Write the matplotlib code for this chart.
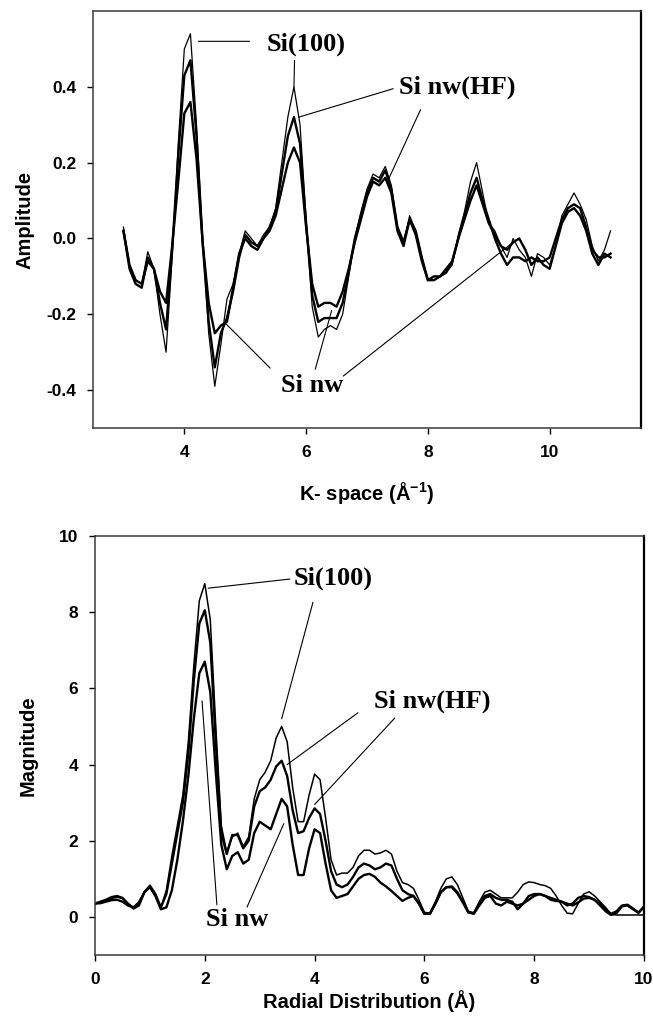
import numpy as np
import matplotlib
matplotlib.use("Agg")
import matplotlib.pyplot as plt

plt.rcParams["font.family"] = ["Liberation Sans", "DejaVu Sans"]
plt.rcParams["mathtext.fontset"] = "custom"
plt.rcParams["mathtext.rm"] = "Liberation Sans"
plt.rcParams["mathtext.bf"] = "Liberation Sans:bold"

# ---------------- EXAFS oscillations in k-space ----------------
k = np.round(np.linspace(3.0, 11.0, 81), 1)

chi_si100 = [
    0.03, -0.07, -0.11, -0.12, -0.035, -0.08, -0.20, -0.30, -0.05, 0.25,
    0.50, 0.54, 0.30, 0.00, -0.25, -0.39, -0.28, -0.16, -0.12, -0.04,
    0.02, 0.00, -0.02, 0.01, 0.03, 0.08, 0.20, 0.32, 0.40, 0.30,
    0.05, -0.18, -0.26, -0.24, -0.23, -0.24, -0.20, -0.10, 0.00, 0.07,
    0.13, 0.17, 0.16, 0.19, 0.14, 0.03, -0.015, 0.06, 0.02, -0.05,
    -0.11, -0.11, -0.10, -0.09, -0.07, 0.01, 0.07, 0.15, 0.20, 0.12,
    0.04, 0.02, -0.02, -0.05, 0.00, -0.03, -0.05, -0.10, -0.04, -0.05,
    -0.07, -0.02, 0.06, 0.09, 0.12, 0.09, 0.05, -0.02, -0.06, -0.03,
    0.02,
]
chi_nw_hf = [
    0.02, -0.08, -0.12, -0.13, -0.05, -0.08, -0.17, -0.24, -0.03, 0.22,
    0.43, 0.47, 0.27, -0.01, -0.22, -0.34, -0.25, -0.21, -0.14, -0.05,
    0.01, -0.01, -0.02, 0.00, 0.03, 0.07, 0.17, 0.27, 0.32, 0.25,
    0.04, -0.15, -0.22, -0.21, -0.21, -0.21, -0.17, -0.09, 0.00, 0.06,
    0.12, 0.16, 0.15, 0.18, 0.13, 0.03, -0.01, 0.05, 0.02, -0.05,
    -0.11, -0.11, -0.10, -0.09, -0.06, 0.00, 0.06, 0.12, 0.16, 0.10,
    0.05, 0.00, -0.04, -0.07, -0.05, -0.05, -0.06, -0.05, -0.06, -0.06,
    -0.05, 0.00, 0.05, 0.08, 0.09, 0.08, 0.03, -0.03, -0.05, -0.05,
    -0.04,
]
chi_nw = [
    0.02, -0.07, -0.11, -0.12, -0.06, -0.08, -0.14, -0.17, -0.02, 0.15,
    0.33, 0.36, 0.21, -0.01, -0.17, -0.25, -0.23, -0.22, -0.13, -0.04,
    0.00, -0.02, -0.03, 0.00, 0.02, 0.06, 0.13, 0.20, 0.24, 0.20,
    0.03, -0.12, -0.18, -0.17, -0.17, -0.18, -0.14, -0.08, -0.01, 0.05,
    0.11, 0.15, 0.14, 0.16, 0.12, 0.02, -0.02, 0.05, 0.01, -0.06,
    -0.11, -0.10, -0.10, -0.08, -0.06, 0.00, 0.05, 0.10, 0.14, 0.09,
    0.04, 0.01, -0.02, -0.03, -0.01, 0.00, -0.03, -0.07, -0.05, -0.07,
    -0.08, -0.02, 0.04, 0.07, 0.08, 0.06, 0.02, -0.04, -0.07, -0.04,
    -0.05,
]

# ---------------- Fourier transform magnitude ----------------
r = np.round(np.linspace(0.0, 10.0, 101), 1)

ft_si100 = [
    0.35, 0.38, 0.42, 0.48, 0.52, 0.48, 0.35, 0.25, 0.35, 0.65,
    0.80, 0.55, 0.25, 0.70, 1.60, 2.40, 3.20, 4.60, 6.60, 8.30,
    8.75, 7.80, 5.00, 2.40, 1.70, 2.10, 2.20, 1.85, 2.10, 3.10,
    3.60, 3.80, 4.10, 4.70, 5.00, 4.60, 3.40, 2.50, 2.50, 3.20,
    3.75, 3.60, 2.60, 1.50, 1.10, 1.15, 1.15, 1.30, 1.60, 1.75,
    1.75, 1.65, 1.68, 1.75, 1.65, 1.20, 0.90, 0.85, 0.75, 0.45,
    0.12, 0.10, 0.40, 0.75, 1.00, 1.05, 0.85, 0.50, 0.15, 0.10,
    0.40, 0.65, 0.70, 0.60, 0.50, 0.50, 0.50, 0.65, 0.85, 0.92,
    0.90, 0.85, 0.82, 0.75, 0.55, 0.30, 0.10, 0.08, 0.35, 0.60,
    0.66, 0.55, 0.40, 0.25, 0.07, 0.05, 0.05, 0.05, 0.05, 0.05,
    0.05,
]
ft_nw_hf = [
    0.35, 0.40, 0.45, 0.52, 0.55, 0.50, 0.35, 0.22, 0.30, 0.65,
    0.82, 0.60, 0.25, 0.60, 1.40, 2.20, 3.00, 4.30, 6.20, 7.70,
    8.05, 7.20, 4.60, 2.20, 1.65, 2.15, 2.15, 1.80, 2.00, 2.90,
    3.30, 3.40, 3.60, 3.95, 4.10, 3.70, 2.80, 2.20, 2.25, 2.60,
    2.85, 2.70, 2.00, 1.20, 0.85, 0.78, 0.85, 1.05, 1.30, 1.40,
    1.35, 1.25, 1.30, 1.40, 1.35, 1.00, 0.70, 0.60, 0.55, 0.35,
    0.08, 0.08, 0.35, 0.65, 0.78, 0.80, 0.65, 0.40, 0.12, 0.10,
    0.35, 0.55, 0.60, 0.50, 0.45, 0.45, 0.40, 0.20, 0.35, 0.55,
    0.60, 0.60, 0.55, 0.45, 0.42, 0.40, 0.30, 0.35, 0.50, 0.55,
    0.52, 0.45, 0.30, 0.15, 0.05, 0.10, 0.28, 0.30, 0.20, 0.12,
    0.25,
]
ft_nw = [
    0.35, 0.36, 0.40, 0.44, 0.45, 0.40, 0.30, 0.25, 0.38, 0.65,
    0.78, 0.55, 0.20, 0.25, 0.70, 1.50, 2.50, 3.70, 5.20, 6.40,
    6.70, 5.90, 3.80, 1.90, 1.25, 1.60, 1.70, 1.40, 1.50, 2.20,
    2.50, 2.40, 2.30, 2.70, 3.10, 2.90, 1.90, 1.10, 1.10, 1.80,
    2.30, 2.20, 1.40, 0.70, 0.50, 0.55, 0.60, 0.80, 1.00, 1.10,
    1.13, 1.05, 0.90, 0.80, 0.68, 0.55, 0.42, 0.50, 0.55, 0.35,
    0.08, 0.08, 0.35, 0.65, 0.78, 0.78, 0.62, 0.38, 0.12, 0.08,
    0.30, 0.50, 0.55, 0.35, 0.30, 0.40, 0.35, 0.30, 0.35, 0.45,
    0.55, 0.60, 0.55, 0.50, 0.45, 0.40, 0.35, 0.30, 0.38, 0.48,
    0.50, 0.45, 0.35, 0.20, 0.08, 0.15, 0.30, 0.32, 0.22, 0.10,
    0.28,
]

k_ticks = [4, 6, 8, 10]
chi_ticks = [-0.4, -0.2, 0.0, 0.2, 0.4]
chi_ticklabels = ["-0.4", "-0.2", "0.0", "0.2", "0.4"]
r_ticks = [0, 2, 4, 6, 8, 10]
ft_ticks = [0, 2, 4, 6, 8, 10]

W, H = 653, 1021
fig = plt.figure(figsize=(W / 100, H / 100), dpi=100)


def px_axes(left, top, right, bottom):
    return fig.add_axes([left / W, 1 - bottom / H, (right - left) / W, (bottom - top) / H])


ax1 = px_axes(93, 11, 641, 428)
ax2 = px_axes(95, 536, 644, 955)

label_font = dict(family="Liberation Serif", weight="bold", fontsize=19)
lead_kw = dict(arrowstyle="-", lw=0.8, color="black", shrinkA=0, shrinkB=0)


def leader(ax, start, end):
    ax.annotate("", xy=end, xytext=start, arrowprops=lead_kw)


def style(ax):
    for s in ax.spines.values():
        s.set_linewidth(1.1)
        s.set_color("#3a3a3a")
    ax.spines["right"].set_color("black")
    ax.spines["right"].set_linewidth(1.6)
    ax.tick_params(direction="out", length=4, width=1, labelsize=12.5, pad=8)
    for lab in ax.get_xticklabels() + ax.get_yticklabels():
        lab.set_fontweight("bold")


# ---- upper panel: k-space ----
ax1.plot(k, chi_si100, color="black", lw=0.9)
ax1.plot(k, chi_nw_hf, color="black", lw=1.7)
ax1.plot(k, chi_nw, color="black", lw=1.7)
ax1.set_xlim(2.5, 11.5)
ax1.set_ylim(-0.5, 0.6)
ax1.set_xticks(k_ticks)
ax1.set_yticks(chi_ticks)
ax1.set_yticklabels(chi_ticklabels)
style(ax1)
ax1.set_xlabel(r"K- space (Å$^{\mathbf{-1}}$)", fontsize=14.5, fontweight="bold", va="center")
ax1.xaxis.set_label_coords(0.5, -0.157)
ax1.set_ylabel("Amplitude", fontsize=14.5, fontweight="bold", va="center")
ax1.yaxis.set_label_coords(-0.124, 0.5)

ax1.text(6.0, 0.513, "Si(100)", ha="center", va="center", **label_font)
leader(ax1, (5.07, 0.52), (4.23, 0.52))
leader(ax1, (5.81, 0.47), (5.8, float(np.interp(5.8, k, chi_si100))))
ax1.text(8.48, 0.40, "Si nw(HF)", ha="center", va="center", **label_font)
leader(ax1, (7.43, 0.395), (5.88, 0.32))
leader(ax1, (7.88, 0.34), (7.35, float(np.interp(7.35, k, chi_nw_hf))))
ax1.text(6.10, -0.387, "Si nw", ha="center", va="center", **label_font)
leader(ax1, (5.41, -0.342), (4.67, float(np.interp(4.67, k, chi_nw))))
leader(ax1, (6.15, -0.345), (6.42, -0.19))
leader(ax1, (6.61, -0.363), (9.40, float(np.interp(9.40, k, chi_nw))))

# ---- lower panel: radial distribution ----
ax2.plot(r, ft_si100, color="black", lw=1.1)
ax2.plot(r, ft_nw_hf, color="black", lw=1.7)
ax2.plot(r, ft_nw, color="black", lw=1.7)
ax2.set_xlim(0, 10)
ax2.set_ylim(-1, 10)
ax2.set_xticks(r_ticks)
ax2.set_yticks(ft_ticks)
style(ax2)
ax2.set_xlabel("Radial Distribution (Å)", fontsize=14.5, fontweight="bold", va="center")
ax2.xaxis.set_label_coords(0.5, -0.11)
ax2.set_ylabel("Magnitude", fontsize=14.5, fontweight="bold", va="center")
ax2.yaxis.set_label_coords(-0.122, 0.5)

ax2.text(4.34, 8.89, "Si(100)", ha="center", va="center", **label_font)
leader(ax2, (3.55, 8.87), (2.06, 8.63))
leader(ax2, (3.97, 8.26), (3.4, float(np.interp(3.4, r, ft_si100)) + 0.2))
ax2.text(6.14, 5.67, "Si nw(HF)", ha="center", va="center", **label_font)
leader(ax2, (4.79, 5.36), (3.5, float(np.interp(3.5, r, ft_nw_hf)) + 0.3))
leader(ax2, (5.46, 5.22), (4.0, float(np.interp(4.0, r, ft_nw_hf)) + 0.1))
ax2.text(2.59, -0.08, "Si nw", ha="center", va="center", **label_font)
leader(ax2, (2.22, 0.32), (1.95, 5.67))
leader(ax2, (2.77, 0.26), (3.44, 2.45))

fig.savefig("out.png", dpi=100, facecolor="white")
